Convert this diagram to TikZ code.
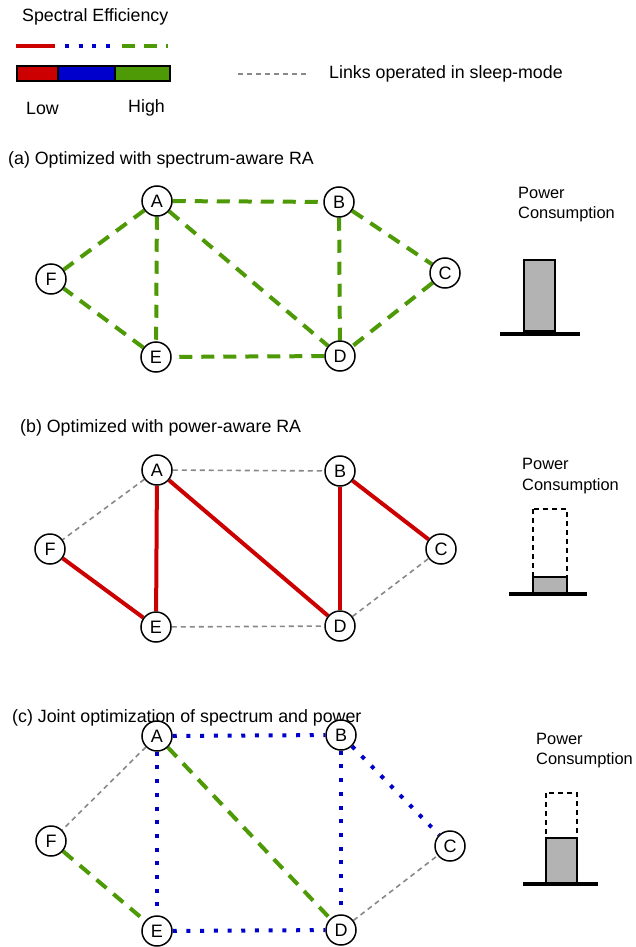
\documentclass[tikz,border=0pt]{standalone}
\usepackage{fontspec}
\setmainfont{Liberation Sans}
\usetikzlibrary{backgrounds}
\definecolor{sered}{HTML}{CC0000}
\definecolor{seblue}{HTML}{0000CC}
\definecolor{segreen}{HTML}{4E9A06}
\definecolor{sleepgray}{HTML}{888888}
\definecolor{barfill}{HTML}{B3B3B3}
\tikzset{
  vnode/.style={circle, draw=black, line width=1.5pt, fill=white, minimum size=30pt, inner sep=0pt, font=\fontsize{18}{20}\selectfont},
  lbl/.style={anchor=west, inner sep=0pt, font=\fontsize{17.8}{21}\selectfont},
  plbl/.style={anchor=west, inner sep=0pt, font=\fontsize{16.4}{20}\selectfont},
  lowse/.style={draw=sered, line width=4pt},
  midse/.style={draw=seblue, line width=4pt, dash pattern=on 4pt off 9.7pt},
  highse/.style={draw=segreen, line width=4pt, dash pattern=on 13pt off 9pt},
  sleep/.style={draw=sleepgray, line width=1.6pt, dash pattern=on 5pt off 4pt},
  barbox/.style={draw=black, line width=1.5pt, fill=barfill},
  ghostbox/.style={draw=black, line width=1.5pt, dash pattern=on 5pt off 4pt},
  baseline/.style={draw=black, line width=4pt}
}
\begin{document}
\begin{tikzpicture}[x=1pt,y=-1pt]
\useasboundingbox (0,0) rectangle (636,947);
% ---------- Legend ----------
\node[lbl] (selbl) at (22,17) {Spectral Efficiency};
\draw[lowse] (16,46) -- (55,46);
\draw[midse] (65,46) -- (112,46);
\draw[highse] (122,46) -- (168,46);
\draw[line width=1.5pt, fill=sered] (17,66) rectangle (58,81);
\draw[line width=1.5pt, fill=seblue] (58,66) rectangle (115,81);
\draw[line width=1.5pt, fill=segreen] (115,66) rectangle (170,81);
\node[lbl] (low) at (26,108) {Low};
\node[lbl] (high) at (128,108) {High};
\draw[sleep] (238,74) -- (308,74);
\node[lbl] (sleeplbl) at (329,74) {Links operated in sleep-mode};

% ---------- Panel (a) ----------
\node[lbl] (ta) at (8,160) {(a) Optimized with spectrum-aware RA};
\node[vnode] (aA) at (157,201) {A};
\node[vnode] (aB) at (339,202) {B};
\node[vnode] (aC) at (445,273) {C};
\node[vnode] (aD) at (340,356) {D};
\node[vnode] (aE) at (156,357) {E};
\node[vnode] (aF) at (51,279) {F};
\begin{pgfonlayer}{background}
\draw[highse] (aA) -- (aB);
\draw[highse] (aA) -- (aF);
\draw[highse] (aA) -- (aE);
\draw[highse] (aA) -- (aD);
\draw[highse] (aB) -- (aD);
\draw[highse] (aB) -- (aC);
\draw[highse] (aC) -- (aD);
\draw[highse] (aD) -- (aE);
\draw[highse] (aE) -- (aF);
\end{pgfonlayer}
\node[plbl] (pa1) at (518,193) {Power};
\node[plbl] (pa2) at (518,214) {Consumption};
\draw[barbox] (524,260) rectangle (555,331);
\draw[baseline] (500,334) -- (580,334);

% ---------- Panel (b) ----------
\node[lbl] (tb) at (20,428) {(b) Optimized with power-aware RA};
\node[vnode] (bA) at (157,470) {A};
\node[vnode] (bB) at (340,471) {B};
\node[vnode] (bC) at (441,549) {C};
\node[vnode] (bD) at (340,626) {D};
\node[vnode] (bE) at (156,627) {E};
\node[vnode] (bF) at (50,549) {F};
\begin{pgfonlayer}{background}
\draw[sleep] (bA) -- (bB);
\draw[sleep] (bA) -- (bF);
\draw[sleep] (bE) -- (bD);
\draw[sleep] (bD) -- (bC);
\draw[lowse] (bA) -- (bE);
\draw[lowse] (bA) -- (bD);
\draw[lowse] (bB) -- (bD);
\draw[lowse] (bB) -- (bC);
\draw[lowse] (bF) -- (bE);
\end{pgfonlayer}
\node[plbl] (pb1) at (522,464) {Power};
\node[plbl] (pb2) at (522,486) {Consumption};
\draw[ghostbox] (533,509) rectangle (567,577);
\draw[barbox] (533,577) rectangle (567,594);
\draw[baseline] (509,594) -- (587,594);

% ---------- Panel (c) ----------
\node[lbl] (tc) at (12,718) {(c) Joint optimization of spectrum and power};
\node[vnode] (cA) at (157,736) {A};
\node[vnode] (cB) at (341,735) {B};
\node[vnode] (cC) at (450,846) {C};
\node[vnode] (cD) at (341,930) {D};
\node[vnode] (cE) at (157,931) {E};
\node[vnode] (cF) at (51,841) {F};
\begin{pgfonlayer}{background}
\draw[sleep] (cA) -- (cF);
\draw[sleep] (cD) -- (cC);
\draw[midse] (cA) -- (cB);
\draw[midse] (cA) -- (cE);
\draw[midse] (cB) -- (cD);
\draw[midse] (cB) -- (cC);
\draw[midse] (cE) -- (cD);
\draw[highse] (cA) -- (cD);
\draw[highse] (cF) -- (cE);
\end{pgfonlayer}
\node[plbl] (pc1) at (536,739) {Power};
\node[plbl] (pc2) at (536,760) {Consumption};
\draw[ghostbox] (546,793) rectangle (577,838);
\draw[barbox] (546,838) rectangle (577,883);
\draw[baseline] (523,884) -- (598,884);
\end{tikzpicture}
\end{document}
